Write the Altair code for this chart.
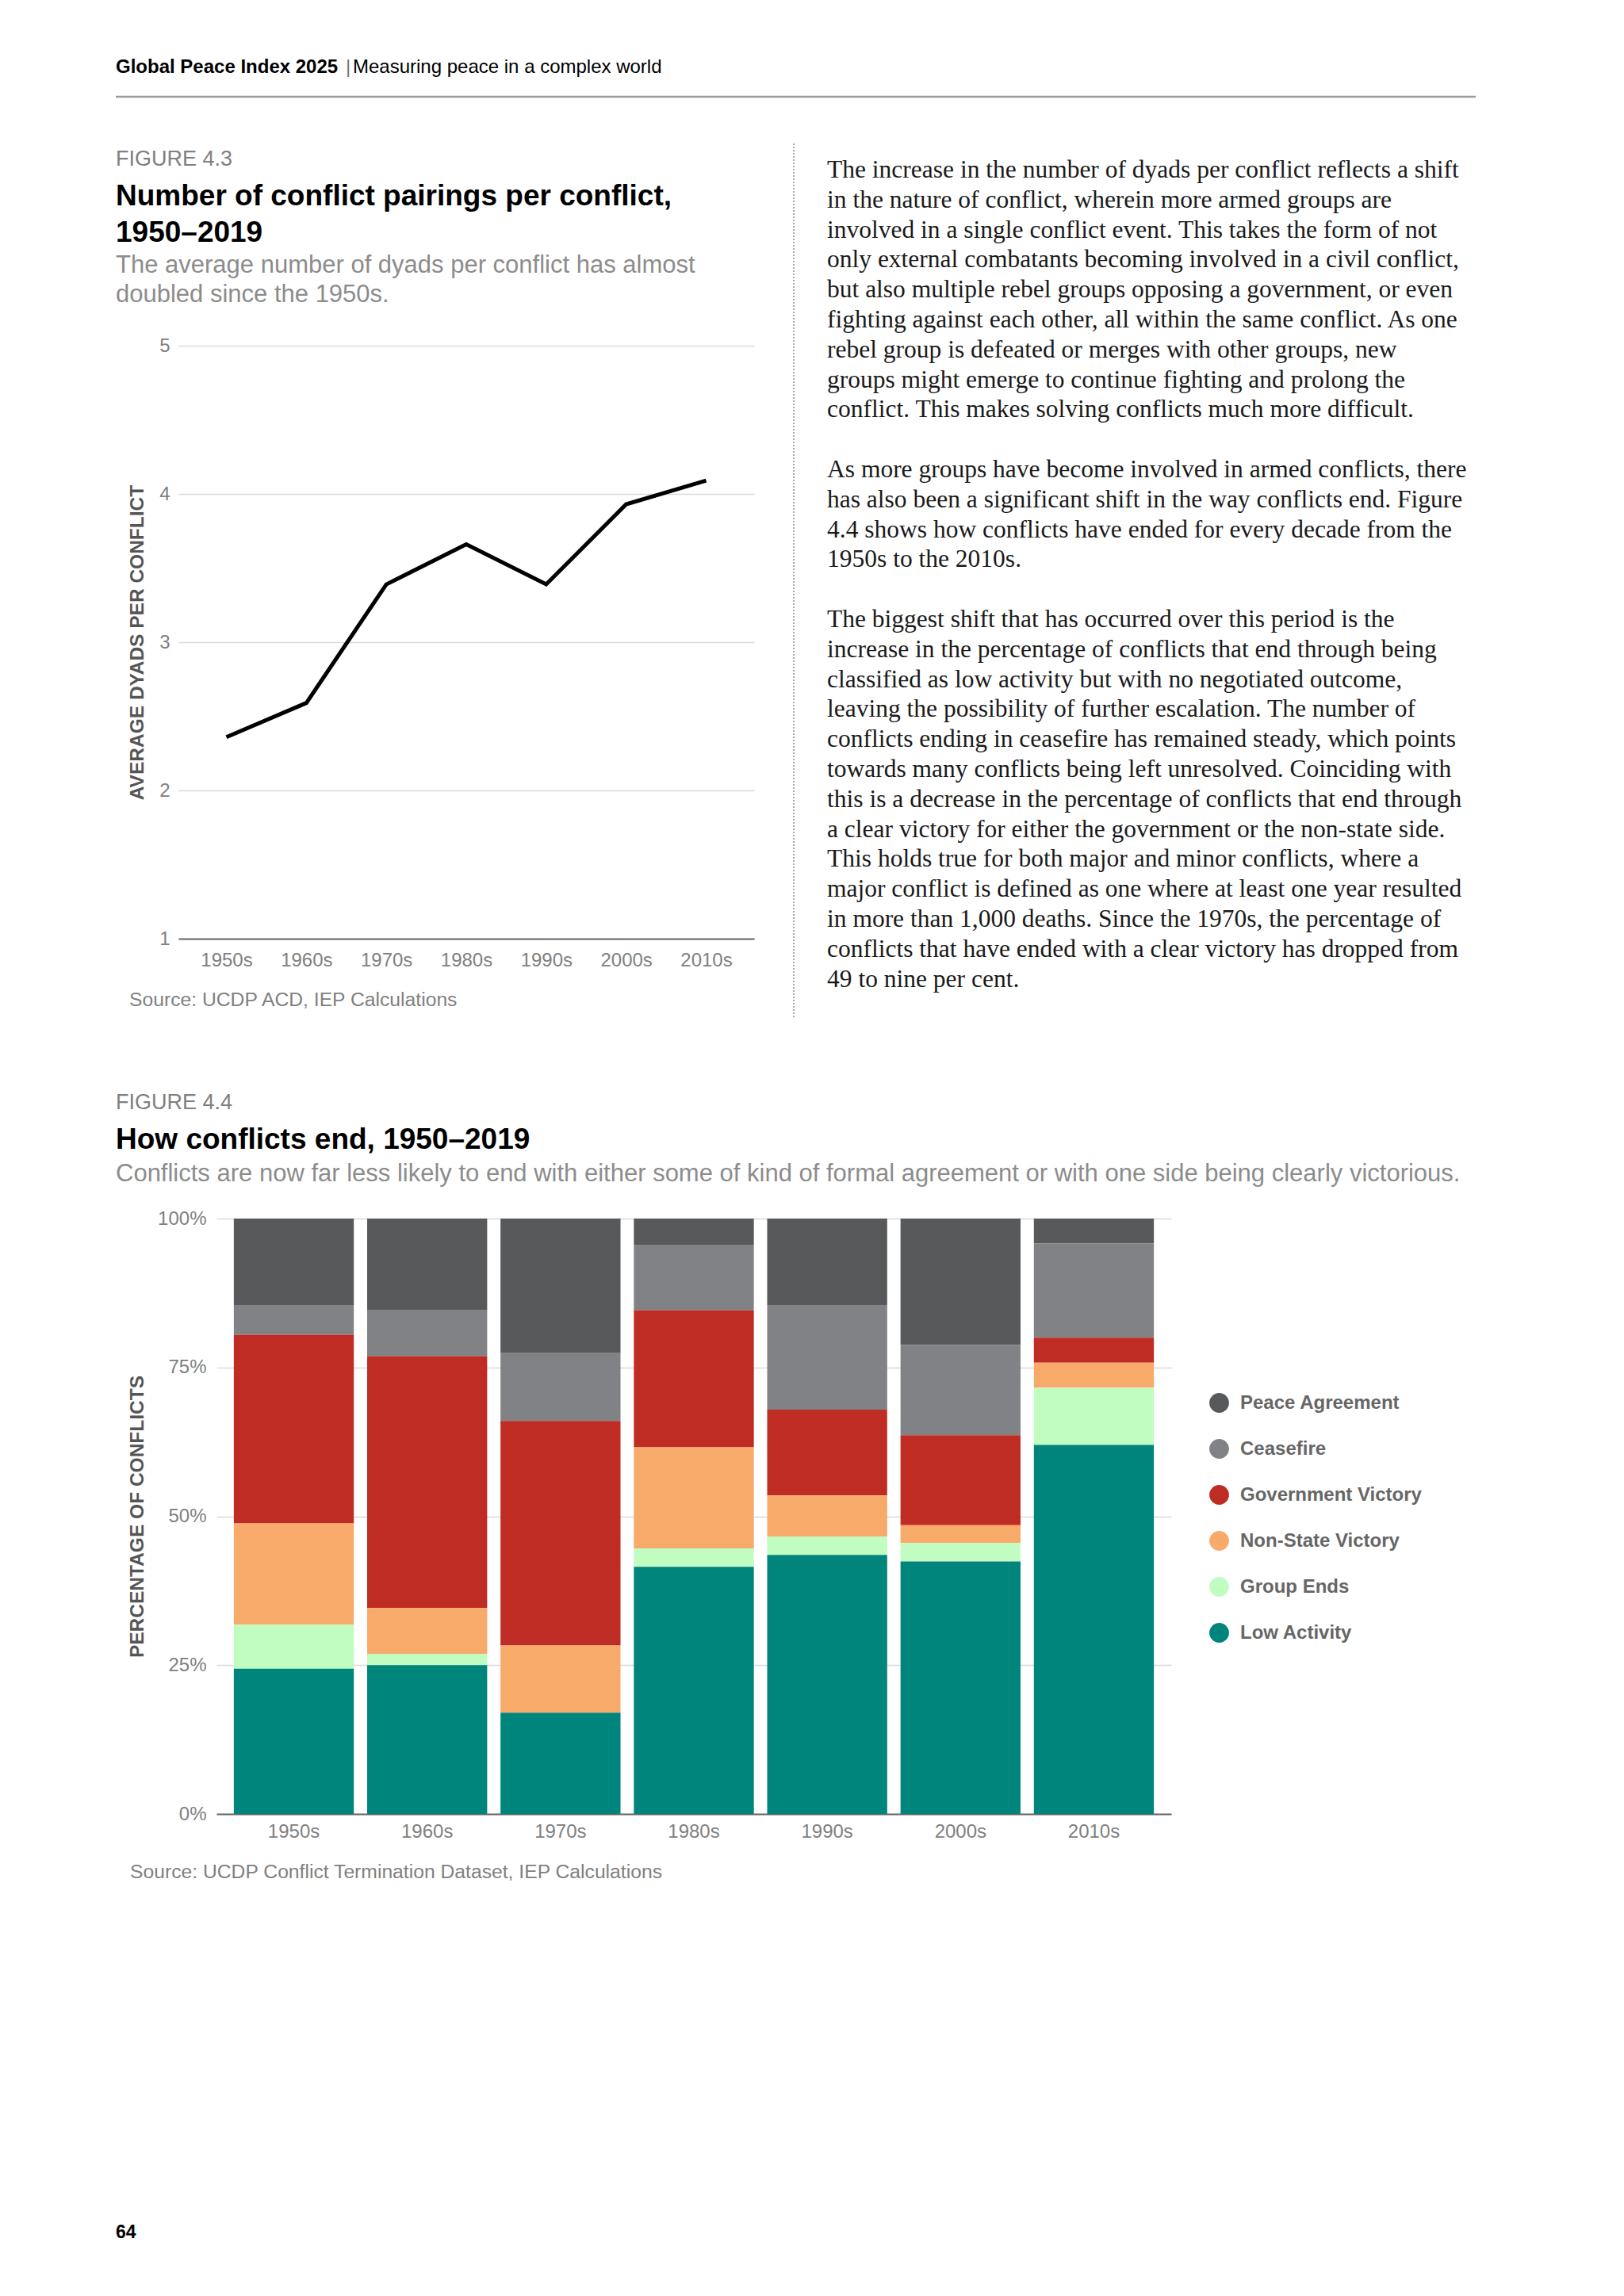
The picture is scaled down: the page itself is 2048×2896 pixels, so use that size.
import altair as alt
import pandas as pd

SANS = "Liberation Sans"
SERIF = "Liberation Serif"

# ---------------- data ----------------
decades = ["1950s", "1960s", "1970s", "1980s", "1990s", "2000s", "2010s"]
avg_dyads = [2.36, 2.59, 3.39, 3.66, 3.39, 3.93, 4.09]

outcomes = ["Peace Agreement", "Ceasefire", "Government Victory",
            "Non-State Victory", "Group Ends", "Low Activity"]
outcome_colors = ["#58595b", "#808285", "#bf2c23", "#f8aa6b", "#c1fcc0", "#00857c"]
peace_agreement = [14.6, 15.4, 22.6, 4.5, 14.5, 21.2, 4.2]
ceasefire = [4.9, 7.7, 11.4, 10.9, 17.6, 15.2, 15.8]
government_victory = [31.7, 42.3, 37.7, 23.0, 14.4, 15.1, 4.2]
non_state_victory = [17.0, 7.7, 11.3, 17.0, 6.9, 3.0, 4.2]
group_ends = [7.4, 1.9, 0.0, 3.1, 3.1, 3.1, 9.6]
low_activity = [24.4, 25.0, 17.0, 41.5, 43.5, 42.4, 62.0]

header_bold = "Global Peace Index 2025"
header_sep = "|"
header_rest = "Measuring peace in a complex world"
fig43_label = "FIGURE 4.3"
fig43_title = ["Number of conflict pairings per conflict,", "1950\u20132019"]
fig43_subtitle = ["The average number of dyads per conflict has almost", "doubled since the 1950s."]
fig43_ytitle = "AVERAGE DYADS PER CONFLICT"
fig43_source = "Source: UCDP ACD, IEP Calculations"
fig44_label = "FIGURE 4.4"
fig44_title = "How conflicts end, 1950\u20132019"
fig44_subtitle = ("Conflicts are now far less likely to end with either some of kind of formal "
                  "agreement or with one side being clearly victorious.")
fig44_ytitle = "PERCENTAGE OF CONFLICTS"
fig44_source = "Source: UCDP Conflict Termination Dataset, IEP Calculations"
page_number = "64"

para1 = [
    "The increase in the number of dyads per conflict reflects a shift",
    "in the nature of conflict, wherein more armed groups are",
    "involved in a single conflict event. This takes the form of not",
    "only external combatants becoming involved in a civil conflict,",
    "but also multiple rebel groups opposing a government, or even",
    "fighting against each other, all within the same conflict. As one",
    "rebel group is defeated or merges with other groups, new",
    "groups might emerge to continue fighting and prolong the",
    "conflict. This makes solving conflicts much more difficult.",
]
para2 = [
    "As more groups have become involved in armed conflicts, there",
    "has also been a significant shift in the way conflicts end. Figure",
    "4.4 shows how conflicts have ended for every decade from the",
    "1950s to the 2010s.",
]
para3 = [
    "The biggest shift that has occurred over this period is the",
    "increase in the percentage of conflicts that end through being",
    "classified as low activity but with no negotiated outcome,",
    "leaving the possibility of further escalation. The number of",
    "conflicts ending in ceasefire has remained steady, which points",
    "towards many conflicts being left unresolved. Coinciding with",
    "this is a decrease in the percentage of conflicts that end through",
    "a clear victory for either the government or the non-state side.",
    "This holds true for both major and minor conflicts, where a",
    "major conflict is defined as one where at least one year resulted",
    "in more than 1,000 deaths. Since the 1970s, the percentage of",
    "conflicts that have ended with a clear victory has dropped from",
    "49 to nine per cent.",
]

# ---------------- helpers ----------------
ONE = alt.Data(values=[{}])


def txt(text, x, y, size, color="#000000", weight="normal", font=SANS, line_height=None, align="left"):
    kw = dict(align=align, baseline="alphabetic", fontSize=size, font=font,
              fontWeight=weight, color=color)
    if isinstance(text, list):
        text = "\n".join(text)
        kw["lineBreak"] = "\n"
        if line_height:
            kw["lineHeight"] = line_height
    return alt.Chart(ONE).mark_text(**kw).encode(
        x=alt.value(x), y=alt.value(y), text=alt.value(text))


# ---------------- figure 4.3 (line) ----------------
# group origin (shared by the column layout) sits at page x=273; the line plot
# itself spans page x 225..951, hence the shifted pixel range of the x scale.
LX0 = -48
line_df = pd.DataFrame({"decade": decades, "dyads": avg_dyads})

line = alt.Chart(line_df).mark_line(color="#000000", strokeWidth=5).encode(
    x=alt.X("decade:N", sort=decades,
            scale=alt.Scale(type="point", padding=0.6, range=[LX0, 678]),
            axis=alt.Axis(title=None, labelAngle=0, labelFont=SANS, labelFontSize=24,
                          labelColor="#808080", labelPadding=15, ticks=False,
                          domain=True, domainColor="#666666", domainWidth=2, grid=False)),
    y=alt.Y("dyads:Q", scale=alt.Scale(domain=[1, 5], nice=False, zero=False),
            axis=alt.Axis(values=[1, 2, 3, 4, 5], title=fig43_ytitle, titleFont=SANS,
                          titleFontSize=24.5, titleFontWeight="bold", titleColor="#555555",
                          titlePadding=15, labelFont=SANS, labelFontSize=24,
                          labelColor="#808080", labelPadding=11, ticks=False, domain=False,
                          offset=-LX0, grid=True, gridColor="#d9d9d9", gridWidth=1.5)),
).properties(width=678, height=748)

LH = 37.8
BODY_X = 770
BODY_Y0 = -212
c1 = [
    txt(header_bold, -127, -344, 24, weight="bold"),
    txt(header_sep, 163, -344, 24, color="#777777"),
    txt(header_rest, 172, -344, 24),
    alt.Chart(ONE).mark_rule(color="#9a9a9a", strokeWidth=2.5).encode(
        x=alt.value(-127), x2=alt.value(1588), y=alt.value(-314)),
    txt(fig43_label, -127, -227, 27, color="#808080"),
    txt(fig43_title, -127, -177, 37, weight="bold", line_height=46),
    txt(fig43_subtitle, -127, -92, 31, color="#8c8c8c", line_height=37),
    txt(fig43_source, -110, 833, 24.7, color="#7f7f7f"),
    alt.Chart(ONE).mark_rule(color="#8a8a8a", strokeWidth=1.5, strokeDash=[2, 2]).encode(
        x=alt.value(728), y=alt.value(-255), y2=alt.value(847)),
    txt(para1, BODY_X, BODY_Y0, 31.5, color="#1a1a1a", font=SERIF, line_height=LH),
    txt(para2, BODY_X, BODY_Y0 + 10 * LH, 31.5, color="#1a1a1a", font=SERIF, line_height=LH),
    txt(para3, BODY_X, BODY_Y0 + 15 * LH, 31.5, color="#1a1a1a", font=SERIF, line_height=LH),
]
chart1 = alt.layer(line, *c1)

# ---------------- figure 4.4 (stacked bars) ----------------
series = [peace_agreement, ceasefire, government_victory, non_state_victory, group_ends, low_activity]
rows = []
for k, (name, vals) in enumerate(zip(outcomes, series)):
    for d, v in zip(decades, vals):
        rows.append({"decade": d, "outcome": name, "pct": v, "stack_idx": len(outcomes) - 1 - k})
bar_df = pd.DataFrame(rows)

bars = alt.Chart(bar_df).mark_bar().encode(
    x=alt.X("decade:N", sort=decades,
            scale=alt.Scale(paddingInner=0.1, paddingOuter=0.13),
            axis=alt.Axis(title=None, labelAngle=0, labelFont=SANS, labelFontSize=24,
                          labelColor="#808080", labelPadding=10, ticks=False,
                          domain=True, domainColor="#666666", domainWidth=2, grid=False)),
    y=alt.Y("pct:Q", stack="zero", scale=alt.Scale(domain=[0, 100], nice=False),
            axis=alt.Axis(values=[0, 25, 50, 75, 100], labelExpr="datum.value + '%'",
                          title=fig44_ytitle, titleFont=SANS, titleFontSize=24.5,
                          titleFontWeight="bold", titleColor="#555555", titlePadding=13,
                          labelFont=SANS, labelFontSize=24, labelColor="#808080",
                          labelPadding=13, ticks=False, domain=False, grid=True,
                          gridColor="#d9d9d9", gridWidth=1.5)),
    color=alt.Color("outcome:N", scale=alt.Scale(domain=outcomes, range=outcome_colors),
                    legend=alt.Legend(title=None, orient="none", legendX=1252, legendY=220,
                                      symbolType="circle", symbolSize=616,
                                      symbolStrokeWidth=0, labelFont=SANS, labelFontSize=24,
                                      labelFontWeight="bold", labelColor="#666666",
                                      labelOffset=14, labelLimit=400, rowPadding=33,
                                      padding=0)),
    order=alt.Order("stack_idx:Q", sort="ascending"),
).properties(width=1204, height=751)

# page origin of this plot: (273, 1536)
c2 = [
    txt(fig44_label, -127, -138, 27, color="#808080"),
    txt(fig44_title, -127, -88, 37, weight="bold"),
    txt(fig44_subtitle, -127, -47, 31, color="#8c8c8c"),
    txt(fig44_source, -109, 832, 24.7, color="#7f7f7f"),
    txt(page_number, -127, 1286, 23, weight="bold"),
]
chart2 = alt.layer(bars, *c2)

chart = alt.concat(chart1, chart2, columns=1, spacing=93).resolve_scale(
    color="independent"
).resolve_legend(color="independent").properties(
    padding={"left": 136, "top": 65, "right": 10, "bottom": 10},
    background="#ffffff",
).configure_view(stroke=None)

chart.save("out.html", embed_options={"renderer": "svg", "actions": False})
